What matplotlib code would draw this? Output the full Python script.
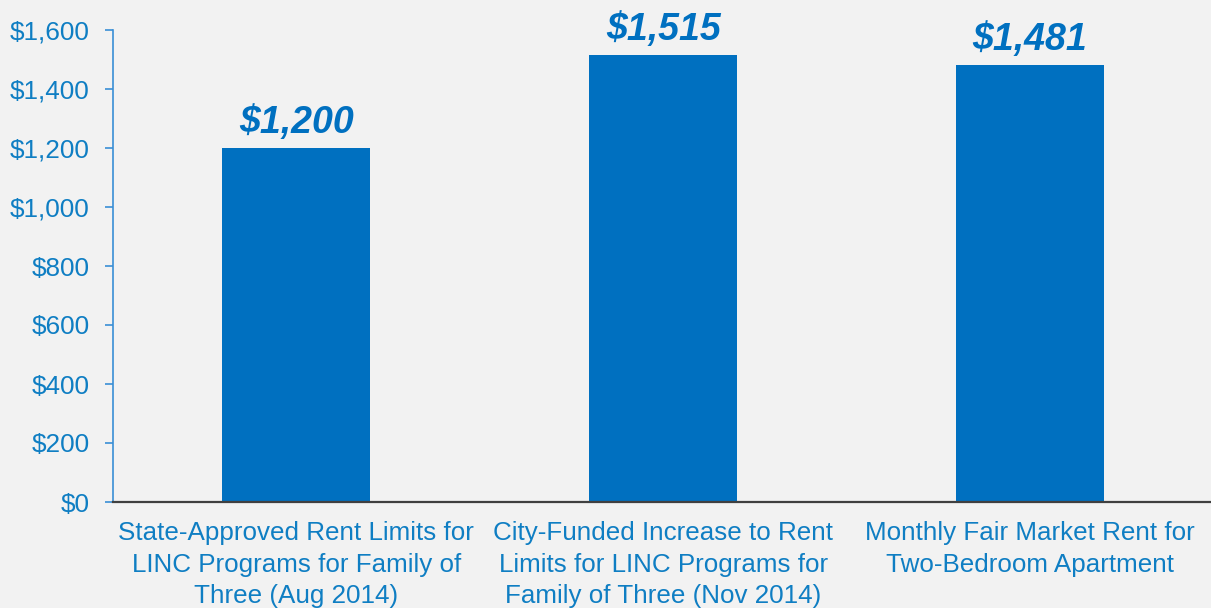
import matplotlib.pyplot as plt
from matplotlib.ticker import FuncFormatter

categories = [
    "State-Approved Rent Limits for\nLINC Programs for Family of\nThree (Aug 2014)",
    "City-Funded Increase to Rent\nLimits for LINC Programs for\nFamily of Three (Nov 2014)",
    "Monthly Fair Market Rent for\nTwo-Bedroom Apartment",
]
values = [1200, 1515, 1481]
value_labels = ["$1,200", "$1,515", "$1,481"]
y_ticks = [0, 200, 400, 600, 800, 1000, 1200, 1400, 1600]

plt.rcParams['font.family'] = ['Liberation Sans', 'DejaVu Sans']

bg = '#f2f2f2'
bar_color = '#0070c0'
text_color = '#0f7ec3'

fig = plt.figure(figsize=(12.11, 6.08), dpi=100, facecolor=bg)
ax = fig.add_axes([113 / 1211, 106 / 608, 1 - 113 / 1211 + 0.002, (502 - 30) / 608])
ax.set_facecolor(bg)

x = range(len(values))
ax.bar(x, values, width=0.403, color=bar_color, zorder=2)

for xi, v, lab in zip(x, values, value_labels):
    ax.annotate(lab, (xi, v), xytext=(0, 11), textcoords='offset points',
                ha='center', va='baseline', fontsize=27, fontweight='bold',
                fontstyle='italic', color=bar_color)

ax.set_xlim(-0.5, 2.5)
ax.set_ylim(0, 1600)
ax.set_yticks(y_ticks)
ax.yaxis.set_major_formatter(FuncFormatter(lambda v, p: f"${v:,.0f}"))
ax.set_xticks(list(x))
ax.set_xticklabels(categories, fontsize=18.7, color=text_color, linespacing=1.41)

ax.tick_params(axis='y', labelsize=18.8, labelcolor=text_color, color='#3a8fd6',
               length=6, width=1.2, direction='out', pad=11)
ax.tick_params(axis='x', length=0, pad=13.5)

for s in ['top', 'right']:
    ax.spines[s].set_visible(False)
ax.spines['left'].set_color('#3a8fd6')
ax.spines['left'].set_linewidth(1.2)
ax.spines['bottom'].set_color('#404040')
ax.spines['bottom'].set_linewidth(1.6)
ax.spines['bottom'].set_zorder(3)

fig.savefig('out.png', dpi=100, facecolor=bg)
